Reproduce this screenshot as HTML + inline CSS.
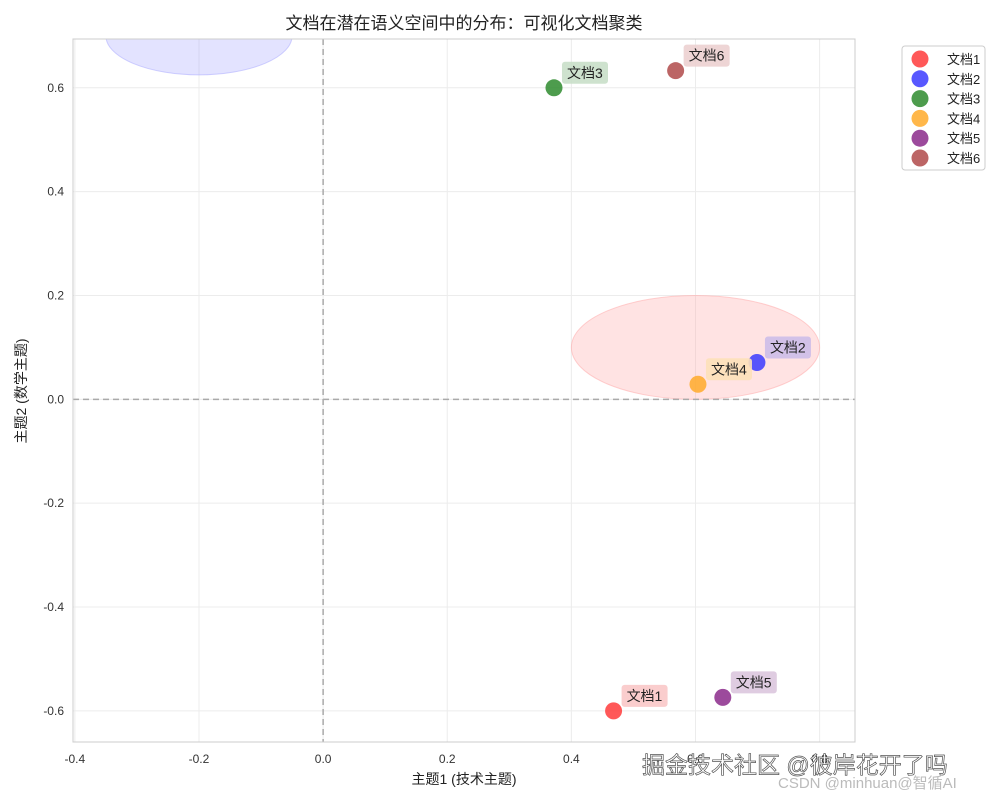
<!DOCTYPE html>
<html><head><meta charset="utf-8"><style>
body{margin:0;background:#fff;width:1000px;height:800px;overflow:hidden}
svg text{font-family:"Liberation Sans","Noto Sans CJK SC",sans-serif}
</style></head><body>
<svg id="c" width="1000" height="800"></svg>
<script>
const labels=["文档1","文档2","文档3","文档4","文档5","文档6"];
const xs=[0.468,0.699,0.372,0.604,0.644,0.568];
const ys=[-0.6,0.071,0.6,0.029,-0.574,0.633];
const colors=["#ff3b3b","#3b3bff","#2e8b2e","#ffaa2a","#8b2a8b","#b04a4a"];
const labelBg=["#f9c8c8","#cdbde8","#c9dfc9","#fde0b8","#dbc6de","#ecd0d0"];
const xTicks=[-0.4,-0.2,0.0,0.2,0.4,0.6,0.8];
const yTicks=[0.6,0.4,0.2,0.0,-0.2,-0.4,-0.6];
const ellipses=[{cx:0.6,cy:0.1,w:0.4,h:0.2,fill:"#ffb0b0"},{cx:-0.2,cy:0.7,w:0.3,h:0.15,fill:"#b0b0ff"}];
const L=73,R=855,T=39,B=742,xmin=-0.403,xmax=0.857,ymin=-0.66,ymax=0.694;
const X=v=>L+(v-xmin)/(xmax-xmin)*(R-L);
const Y=v=>B-(v-ymin)/(ymax-ymin)*(B-T);
const svg=document.getElementById('c');const NS="http://www.w3.org/2000/svg";
function el(t,a,txt){const e=document.createElementNS(NS,t);for(const k in a)e.setAttribute(k,a[k]);if(txt!=null)e.textContent=txt;svg.appendChild(e);return e;}
const defs=el('defs',{});const cp=document.createElementNS(NS,'clipPath');cp.setAttribute('id','pc');
const cr=document.createElementNS(NS,'rect');cr.setAttribute('x',L);cr.setAttribute('y',T);cr.setAttribute('width',R-L);cr.setAttribute('height',B-T);cp.appendChild(cr);defs.appendChild(cp);
xTicks.forEach(v=>{const g=el('line',{x1:X(v),x2:X(v),y1:T,y2:B,stroke:"#ececec"});


const t=el('text',{x:X(v),y:B+21,'text-anchor':'middle','font-size':12,fill:'#333','font-family':'Liberation Mono, monospace'},v.toFixed(1));

});
yTicks.forEach(v=>{const g=el('line',{x1:L,x2:R,y1:Y(v),y2:Y(v),stroke:"#ececec"});


const t=el('text',{x:L-9,y:Y(v)+4,'text-anchor':'end','font-size':12,fill:'#333','font-family':'Liberation Mono, monospace'},v.toFixed(1));

});
ellipses.forEach(e=>{const o=el('ellipse',{cx:X(e.cx),cy:Y(e.cy),rx:X(e.cx+e.w/2)-X(e.cx),ry:Y(e.cy)-Y(e.cy+e.h/2),fill:e.fill,'fill-opacity':0.35,stroke:e.fill,'stroke-opacity':0.6,'clip-path':'url(#pc)'});

});
el('line',{x1:L,x2:R,y1:Y(0),y2:Y(0),stroke:'#aaa','stroke-width':1.5,'stroke-dasharray':'6,4',});
el('line',{x1:X(0),x2:X(0),y1:T,y2:B,stroke:'#aaa','stroke-width':1.5,'stroke-dasharray':'6,4',});
el('rect',{x:L,y:T,width:R-L,height:B-T,fill:'none',stroke:'#ccc',});
labels.forEach((l,i)=>{const px=X(xs[i]),py=Y(ys[i]);
const bg=el('rect',{x:px+8,y:py-26,width:46,height:22,rx:3,fill:labelBg[i],'fill-opacity':0.9});


const t=el('text',{x:px+13,y:py-10,'font-size':14,fill:'#222'},l);


const c=el('circle',{cx:px,cy:py,r:8.5,fill:colors[i],'fill-opacity':0.85});

});
el('rect',{x:902,y:46,width:83,height:124,rx:3,fill:'#fff',stroke:'#ccc',});
labels.forEach((l,i)=>{const y=59+i*19.8;
const c=el('circle',{cx:920,cy:y,r:8.5,fill:colors[i],'fill-opacity':0.85});


const t=el('text',{x:947,y:y+5,'font-size':13,fill:'#222'},l);

});
el('text',{x:464,y:29,'text-anchor':'middle','font-size':17,fill:'#222',},'文档在潜在语义空间中的分布：可视化文档聚类');
el('text',{x:464,y:784,'text-anchor':'middle','font-size':14,fill:'#222',},'主题1 (技术主题)');
el('text',{x:26,y:391,'text-anchor':'middle','font-size':14,fill:'#222',transform:'rotate(-90 26 391)',},'主题2 (数学主题)');
el('text',{x:642,y:773,'font-size':23,fill:'#fff',stroke:'#555','stroke-width':0.7,},'掘金技术社区 @彼岸花开了吗');
el('text',{x:778,y:788,'font-size':15,fill:'#bbb',},'CSDN @minhuan@智循AI');
</script></body></html>
